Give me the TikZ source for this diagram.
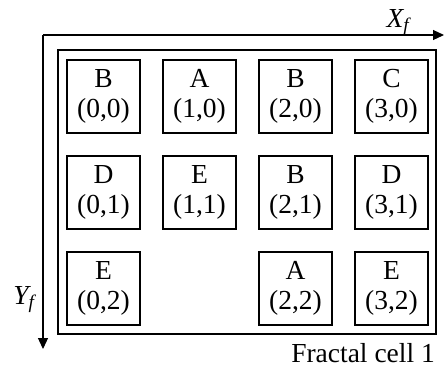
\documentclass[tikz,border=0pt]{standalone}
\usepackage{fontspec}
\setmainfont{Liberation Serif}
\usetikzlibrary{arrows.meta}

\tikzset{
  cellbox/.style={draw, line width=1.8pt, minimum width=73pt, minimum height=73pt,
    inner sep=0pt, align=center, font=\fontsize{27.5}{29.5}\selectfont},
  axis/.style={line width=1.2pt, -{Triangle[length=11pt,width=10pt]}},
  lbl/.style={font=\fontsize{27.5}{29.5}\selectfont, inner sep=0pt}
}

\begin{document}
\begin{tikzpicture}[x=1pt,y=-1pt]
  \useasboundingbox (0,0) rectangle (444,368);
  % axes of the fractal cell
  \coordinate (orig) at (43,35);
  \coordinate (xend) at (444,35);
  \coordinate (yend) at (43,349);
  \draw[axis] (orig) -- (xend);
  \draw[axis] (orig) -- (yend);
  \node[lbl, anchor=base] (xlab) at (398,27) {\itshape X\textsubscript{f}};
  \node[lbl, anchor=base] (ylab) at (24,304) {\itshape Y\textsubscript{f}};
  % cell frame
  \draw[line width=1.8pt] (58,50) rectangle (436,334);
  % row 0
  \node[cellbox] (b00) at (103.5,96.5) {B\\(0,0)};
  \node[cellbox] (a10) at (199.5,96.5) {A\\(1,0)};
  \node[cellbox] (b20) at (295.5,96.5) {B\\(2,0)};
  \node[cellbox] (c30) at (391.5,96.5) {C\\(3,0)};
  % row 1
  \node[cellbox] (d01) at (103.5,192.5) {D\\(0,1)};
  \node[cellbox] (e11) at (199.5,192.5) {E\\(1,1)};
  \node[cellbox] (b21) at (295.5,192.5) {B\\(2,1)};
  \node[cellbox] (d31) at (391.5,192.5) {D\\(3,1)};
  % row 2
  \node[cellbox] (e02) at (103.5,288.5) {E\\(0,2)};
  \node[cellbox] (a22) at (295.5,288.5) {A\\(2,2)};
  \node[cellbox] (e32) at (391.5,288.5) {E\\(3,2)};
  % caption
  \node[lbl, anchor=base east] (cap) at (435,362) {Fractal cell 1};
\end{tikzpicture}
\end{document}
